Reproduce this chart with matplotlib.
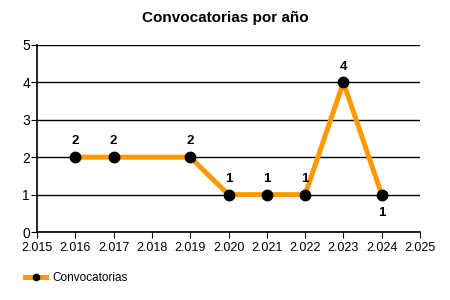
import matplotlib.pyplot as plt
from matplotlib.ticker import FuncFormatter

years = [2016, 2017, 2019, 2020, 2021, 2022, 2023, 2024]
counts = [2, 2, 2, 1, 1, 1, 4, 1]

plt.rcParams['font.family'] = ['Liberation Sans', 'DejaVu Sans']

fig = plt.figure(figsize=(4.5, 3), dpi=100)
ax = fig.add_axes([37 / 450, 1 - 232 / 300, 383 / 450, 187 / 300])

line, = ax.plot(years, counts, color='#ff9900', linewidth=3.6, marker='o',
                markersize=7.5, markerfacecolor='black', markeredgecolor='black',
                label='Convocatorias', zorder=3)

for i, (x, y) in enumerate(zip(years, counts)):
    if i == len(years) - 1:
        ax.annotate(str(y), (x, y), xytext=(0, -9), textcoords='offset points',
                    ha='center', va='top', fontweight='bold', fontsize=9.5)
    else:
        ax.annotate(str(y), (x, y), xytext=(0, 7), textcoords='offset points',
                    ha='center', va='bottom', fontweight='bold', fontsize=9.5)

ax.set_xlim(2015, 2025)
ax.set_ylim(0, 5)
ax.set_xticks(range(2015, 2026))
ax.set_yticks(range(0, 6))
ax.xaxis.set_major_formatter(FuncFormatter(lambda v, p: f"{int(v):,}".replace(',', '.')))
ax.tick_params(axis='x', labelsize=9, length=4, direction='out', pad=3)
ax.tick_params(axis='y', labelsize=10, length=4, direction='out', pad=1)
ax.grid(axis='y', color='black', linewidth=1)
ax.spines['top'].set_visible(False)
ax.spines['right'].set_visible(False)
ax.spines['left'].set_linewidth(1.2)
ax.spines['bottom'].set_linewidth(1.2)

fig.text(0.5, 1 - 18 / 300, 'Convocatorias por año', ha='center', va='center',
         fontsize=11, fontweight='bold')

fig.legend(handles=[line], loc='center left', bbox_to_anchor=(0.045, 1 - 278 / 300),
           frameon=False, fontsize=8.5, handlelength=1.8, markerscale=0.6,
           handletextpad=0.5, borderaxespad=0)

fig.savefig('out.png', dpi=100)
